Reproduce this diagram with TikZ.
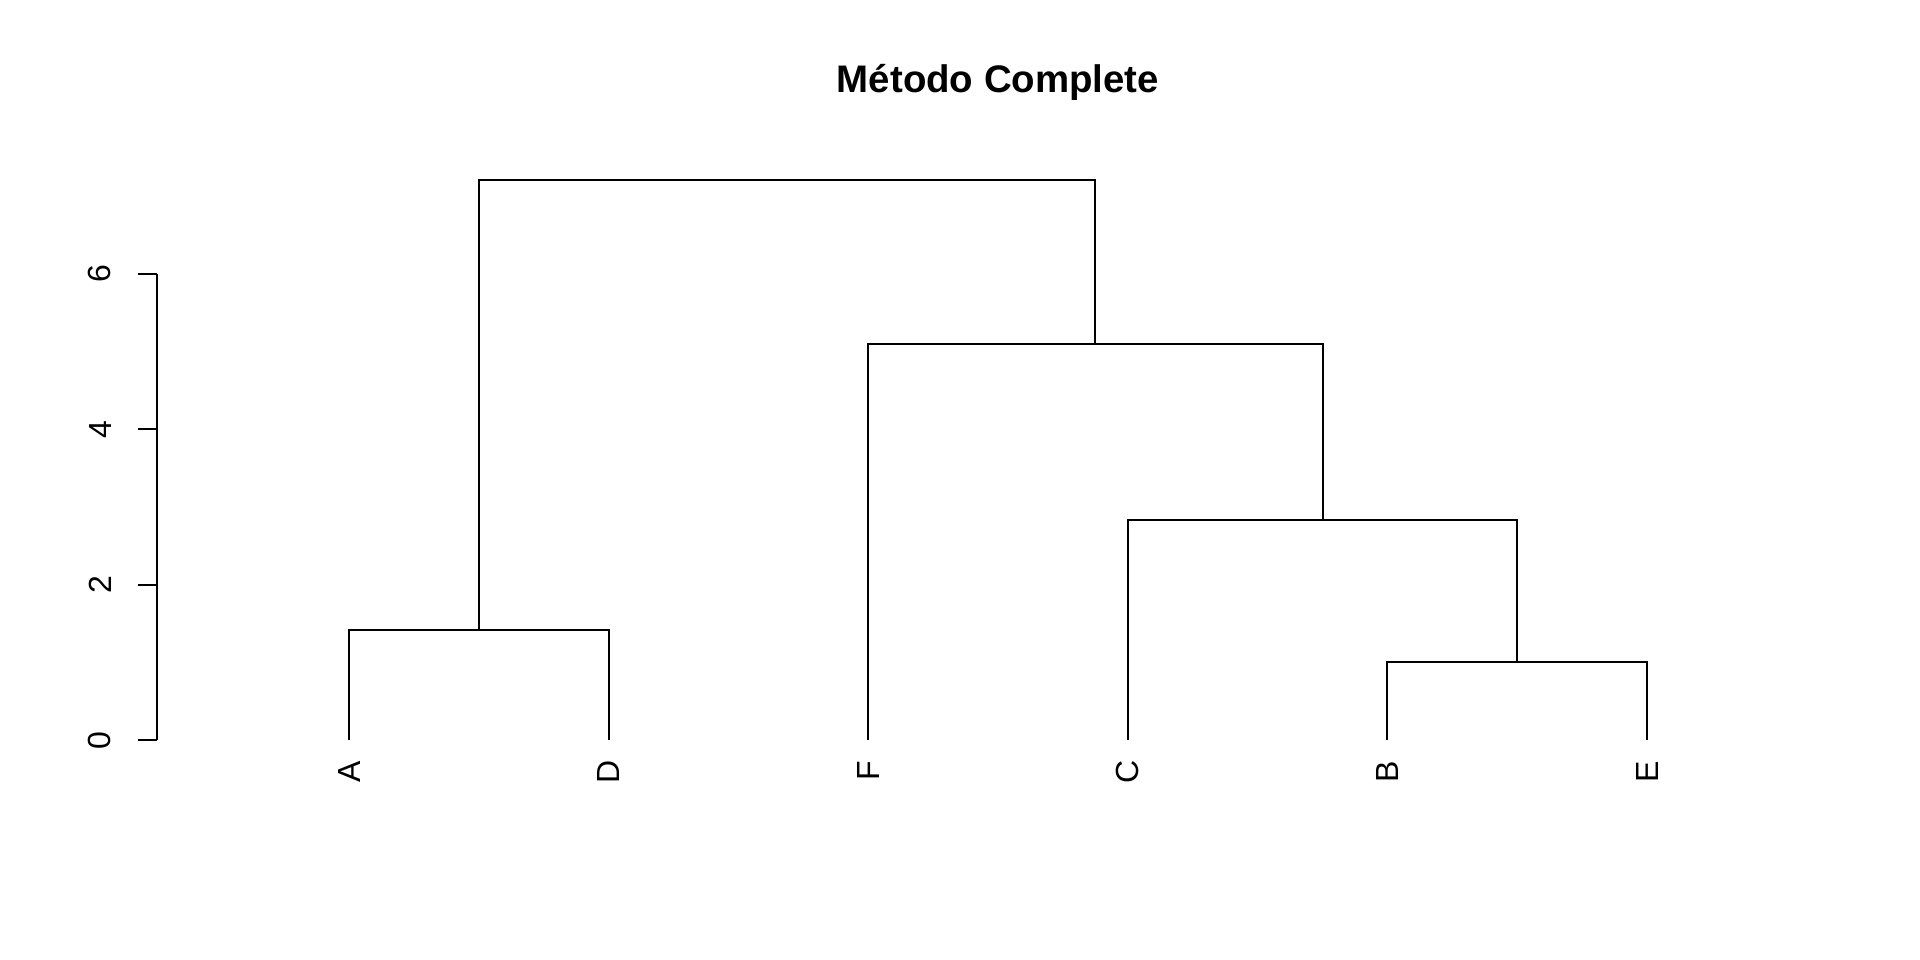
\documentclass[tikz,border=0pt]{standalone}
\usepackage{fontspec}
\setmainfont{Liberation Sans}
\usetikzlibrary{positioning}

\begin{document}
\begin{tikzpicture}[x=129.8pt,y=38.875pt,line width=1pt,
   leaflab/.style={rotate=90,anchor=east,inner sep=0pt,font=\fontsize{16}{19}\selectfont},
   ticklab/.style={rotate=90,anchor=south,inner sep=0pt,font=\fontsize{16}{19}\selectfont}]
   \useasboundingbox (-0.3444,-2.827) rectangle (7.0516,9.520);
   \node[anchor=base,font=\fontsize{19.2}{23}\selectfont\bfseries] (title) at (3.5,8.333) {Método Complete};
   % leaves
   \coordinate (nA) at (1,0);
   \coordinate (nD) at (2,0);
   \coordinate (nF) at (3,0);
   \coordinate (nC) at (4,0);
   \coordinate (nB) at (5,0);
   \coordinate (nE) at (6,0);
   \foreach \n in {A,D,F,C,B,E}
      \node[leaflab] (l\n) at ([yshift=-9.75pt]n\n) {\n};
   % merges
   \coordinate (mAD) at (1.5,{sqrt(2)});
   \coordinate (mBE) at (5.5,1);
   \coordinate (mCBE) at (4.75,{sqrt(8)});
   \coordinate (mFCBE) at (3.875,{sqrt(26)});
   \coordinate (mTop) at (2.6875,{sqrt(52)});
   \draw (nA) |- (mAD) -| (nD);
   \draw (nB) |- (mBE) -| (nE);
   \draw (nC) |- (mCBE) -| (mBE);
   \draw (nF) |- (mFCBE) -| (mCBE);
   \draw (mAD) |- (mTop) -| (mFCBE);
   % axis
   \foreach \v in {0,2,4,6} {
      \coordinate (a\v) at (0.2592,\v);
      \draw (a\v) -- ++(-9.5pt,0);
      \node[ticklab] (t\v) at ([xshift=-22.2pt]a\v) {\v};
   }
   \draw (a0) -- (a6);
\end{tikzpicture}
\end{document}
